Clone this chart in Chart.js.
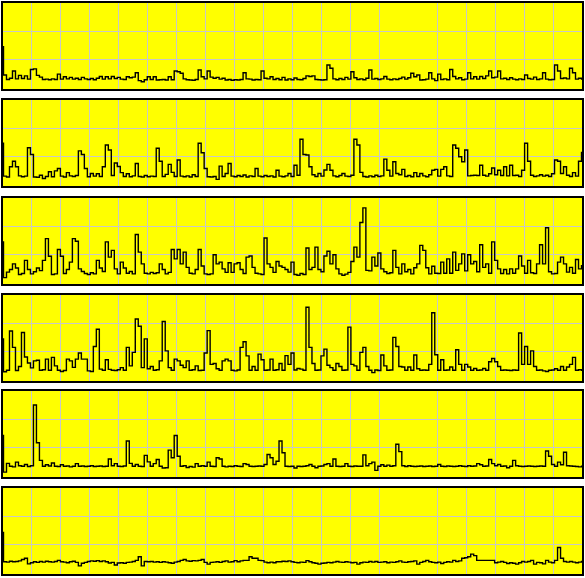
<!DOCTYPE html>
<html>
<head>
<meta charset="utf-8">
<script src="https://cdn.jsdelivr.net/npm/chart.js@4/dist/chart.umd.min.js"></script>
<style>
  html, body { margin: 0; padding: 0; background: #ffffff; }
  body { width: 585px; height: 578px; position: relative; overflow: hidden; }
  canvas { position: absolute; left: 0; }
</style>
</head>
<body>
<script>
// ---- data (values in panel units, 0 = bottom, 30 = top) ----
const series1 = [
  14.8,5.1,3.6,4.0,6.5,3.8,5.0,3.9,4.8,3.7,
  7.0,7.2,5.0,4.4,3.6,3.7,3.5,3.8,3.6,5.4,
  3.7,4.5,3.8,4.3,3.7,4.0,3.6,4.3,3.8,3.6,
  3.9,3.5,4.0,4.6,3.7,4.5,3.8,4.6,3.9,4.3,
  3.7,3.6,4.5,4.2,4.4,5.9,3.2,2.8,3.5,4.5,
  3.6,4.5,3.4,3.5,3.6,3.4,4.5,3.5,6.5,6.2,
  5.7,3.8,3.5,3.4,3.3,3.6,6.8,4.5,3.8,6.5,
  4.4,4.0,4.3,3.7,4.0,3.4,3.6,3.3,3.5,3.4,
  3.6,5.9,3.8,3.7,3.4,3.6,3.5,6.5,4.0,3.8,
  4.5,3.6,3.9,3.5,4.3,3.4,3.8,3.5,4.1,3.6,
  3.5,3.9,4.8,4.6,4.8,3.6,3.5,3.4,3.5,8.5,
  7.4,3.8,3.5,3.9,3.6,4.3,3.7,6.2,4.2,3.6,
  3.8,3.5,4.0,6.8,3.7,3.9,3.6,3.8,4.6,3.7,
  3.5,3.8,3.6,3.9,4.4,3.7,4.2,5.7,4.5,5.1,
  3.4,3.5,3.7,5.9,3.8,3.2,5.4,3.6,3.8,3.5,
  7.0,4.6,3.8,4.2,3.5,3.7,5.9,3.8,4.5,3.7,
  4.6,3.9,4.8,6.5,4.2,4.4,6.5,3.8,4.0,3.6,
  4.2,3.7,3.5,3.8,3.6,5.1,3.9,3.7,4.4,3.6,
  3.8,5.9,3.7,3.5,3.6,8.5,6.5,3.9,4.1,3.8,
  7.4,5.9,3.7,4.0,3.7
];
const series2 = [
  14.9,3.7,3.4,6.9,8.8,6.9,3.8,3.5,3.7,13.4,
  11.1,3.4,3.3,4.0,2.9,3.6,5.2,3.5,5.5,6.3,
  3.7,3.4,4.9,3.8,3.6,3.9,12.3,11.1,6.3,3.5,
  4.6,3.7,4.5,3.6,6.9,14.3,12.6,3.9,8.2,7.0,
  4.9,3.6,4.5,3.5,3.8,8.0,3.6,3.4,3.9,3.5,
  3.7,3.6,13.2,8.8,3.6,4.3,7.7,5.0,3.6,9.2,
  3.7,3.5,3.8,3.4,4.2,3.6,14.9,11.7,6.3,3.5,
  3.4,3.6,2.6,7.1,3.6,4.6,8.0,3.7,3.5,3.9,
  3.6,4.1,3.4,3.8,3.6,6.3,3.7,3.5,3.9,3.6,
  3.8,3.4,5.7,3.7,3.5,3.8,4.6,3.6,7.4,4.0,
  16.3,11.1,10.9,6.9,4.2,3.6,4.6,3.7,5.8,7.7,
  5.7,3.8,3.5,3.9,4.6,3.7,3.6,4.0,16.3,14.3,
  5.0,3.6,3.4,3.8,3.5,4.0,3.6,3.8,9.5,5.7,
  3.7,8.6,4.6,4.2,6.0,3.6,3.9,3.5,4.9,3.6,
  4.6,3.8,3.5,4.2,5.7,6.0,3.7,6.0,6.9,3.8,
  3.6,14.3,13.2,10.3,8.6,12.6,3.8,3.9,4.0,3.9,
  7.4,4.0,3.7,4.5,6.5,4.2,5.7,3.9,6.9,3.8,
  7.4,3.9,4.0,3.6,5.7,14.9,8.8,4.0,3.6,3.8,
  4.2,3.7,4.0,3.6,4.5,9.2,8.8,4.6,6.9,4.0,
  3.6,4.9,3.7,8.8,11.8
];
const series3 = [
  14.7,2.5,4.4,5.3,7.2,5.8,3.6,3.9,8.4,5.3,
  3.8,4.5,5.8,4.9,8.4,15.8,9.8,3.6,3.8,12.1,
  9.8,3.9,5.3,7.8,15.8,14.9,5.5,4.6,3.9,3.6,
  4.2,3.8,8.4,5.8,4.6,14.7,9.5,11.8,5.5,3.8,
  7.8,5.8,4.0,4.6,3.8,17.2,11.2,7.2,4.0,3.8,
  4.3,3.9,4.2,7.2,5.3,3.8,4.3,12.1,8.9,12.1,
  7.2,11.2,6.0,4.0,3.8,5.3,12.1,6.5,3.8,3.6,
  3.8,10.3,7.2,7.8,5.5,4.3,7.6,4.3,7.2,7.6,
  5.3,3.9,9.5,9.9,6.0,4.0,3.8,3.6,16.0,7.2,
  6.0,4.3,8.0,6.5,6.0,5.3,4.4,7.8,3.6,3.3,
  3.9,3.6,12.6,5.3,6.0,12.9,5.3,4.5,9.9,11.5,
  7.2,10.3,5.5,3.8,3.3,3.7,4.3,8.0,12.9,9.5,
  21.3,26.3,5.0,4.8,9.5,6.5,10.9,5.5,4.5,3.9,
  4.2,11.8,6.0,3.8,7.2,4.5,5.3,3.8,5.9,7.2,
  13.5,11.8,5.9,3.8,6.4,4.0,3.9,7.8,4.0,8.9,
  4.0,11.2,5.0,7.2,10.6,4.8,10.3,7.2,8.0,4.5,
  13.7,6.0,7.2,4.0,14.7,8.4,5.5,3.9,5.3,3.8,
  5.5,4.0,5.5,9.9,6.5,4.0,8.4,4.2,3.9,7.2,
  13.7,7.2,19.5,4.5,3.8,3.9,7.8,9.5,7.2,4.4,
  6.0,4.0,8.7,5.5,6.6
];
const series4 = [
  14.7,3.5,4.0,17.4,11.8,3.9,5.3,16.9,8.5,6.5,
  4.8,7.2,7.4,4.0,4.2,7.8,4.0,8.4,5.5,4.0,
  3.6,3.9,7.8,7.2,5.0,7.8,9.9,7.8,7.8,3.8,
  3.6,12.1,18.0,4.4,4.0,7.6,4.3,4.0,3.9,4.2,
  4.9,4.0,11.8,5.5,10.1,21.5,19.0,4.9,14.7,4.5,
  5.3,4.0,4.2,7.2,20.6,10.6,4.9,4.0,7.8,7.2,
  5.7,4.9,7.2,4.0,4.2,5.5,3.9,4.0,9.9,17.5,
  6.0,6.3,4.5,4.0,7.2,7.8,7.2,4.0,3.8,4.1,
  11.8,13.7,8.9,4.0,5.3,4.0,9.5,7.6,4.0,4.1,
  7.8,4.0,4.2,6.3,4.0,9.0,6.0,9.9,4.1,4.6,
  4.4,4.0,25.5,11.8,6.3,4.0,4.1,8.9,11.2,5.7,
  4.9,4.0,6.3,5.3,4.0,4.1,18.7,6.0,5.5,4.0,
  10.1,11.8,5.3,4.0,3.2,4.1,3.9,9.2,5.5,4.0,
  4.1,15.2,12.1,5.3,5.1,4.0,5.1,4.0,9.2,4.5,
  4.0,4.1,4.0,6.0,23.6,9.3,4.0,7.6,4.0,4.1,
  5.1,4.0,11.0,6.0,4.0,6.0,5.1,4.0,4.6,4.0,
  4.1,4.6,4.0,6.9,8.0,6.9,5.3,4.0,4.1,4.0,
  3.9,4.1,4.0,16.7,6.0,12.1,6.0,10.6,5.3,4.0,
  4.1,3.8,3.6,4.0,4.1,4.5,4.0,5.3,4.0,5.1,
  6.0,8.4,4.0,4.2,4.0
];
const series5 = [
  14.5,2.0,5.0,4.0,3.8,5.4,4.2,4.0,4.6,3.9,
  4.2,24.9,12.0,6.0,4.0,4.5,4.1,5.1,4.0,3.9,
  4.5,4.0,4.1,3.8,4.0,4.9,4.0,4.1,3.9,4.0,
  4.2,3.9,4.0,4.1,3.9,4.0,6.5,4.2,4.9,4.0,
  3.9,4.1,12.6,5.0,4.0,4.6,4.0,3.9,7.7,5.5,
  4.0,4.9,6.3,4.0,3.4,3.5,9.5,6.9,14.5,7.4,
  4.0,4.2,3.6,3.9,3.7,4.9,4.0,4.2,4.0,5.4,
  4.0,3.9,6.9,6.5,4.0,3.8,4.0,3.9,4.2,4.0,
  3.9,4.9,4.6,4.0,3.9,4.0,4.1,4.0,4.6,8.0,
  6.9,4.6,5.7,12.6,8.6,4.0,3.9,4.0,3.4,4.0,
  3.9,4.0,4.2,4.6,4.0,3.5,4.0,4.1,4.6,4.9,
  4.0,6.5,4.0,3.9,4.0,4.9,4.0,3.9,4.1,4.0,
  4.0,7.9,4.2,4.9,5.4,2.6,4.0,4.5,4.0,4.4,
  4.0,4.2,11.5,9.0,4.2,3.9,4.2,4.0,3.9,4.0,
  4.1,3.9,4.0,4.1,3.9,4.0,4.6,4.0,3.9,4.1,
  4.0,3.9,4.0,4.2,4.0,3.9,4.2,4.0,4.1,4.9,
  4.5,4.0,4.1,6.3,4.9,4.2,4.6,4.0,4.1,3.5,
  4.0,6.0,4.2,4.0,3.9,4.0,4.1,4.0,3.9,4.0,
  4.1,4.0,9.2,7.4,4.6,4.0,5.4,4.5,8.8,4.2,
  4.1,4.0,3.9,3.8,4.0
];
const series6 = [
  14.5,4.5,4.4,4.7,4.5,4.6,4.8,5.3,5.7,3.8,
  4.2,4.5,4.3,4.6,4.4,4.7,4.5,4.4,4.6,5.0,
  4.5,4.4,4.2,4.5,4.7,4.3,3.1,4.0,4.3,4.6,
  4.8,4.7,4.9,4.6,4.8,4.5,4.1,4.3,3.4,4.1,
  4.2,4.0,4.3,4.4,4.6,5.0,6.2,3.1,4.6,4.5,
  4.6,4.4,4.5,4.3,4.5,4.4,4.2,4.0,4.4,4.6,
  5.0,5.3,4.8,4.7,4.9,4.8,5.0,5.3,4.3,3.7,
  4.3,4.4,4.5,4.3,4.6,4.8,4.4,4.5,4.9,4.5,
  4.8,5.0,5.0,6.2,5.7,5.7,5.0,4.9,4.4,4.2,
  4.4,4.2,4.5,4.5,4.7,4.6,4.8,4.5,4.3,4.2,
  4.4,4.3,4.9,4.5,4.2,4.0,3.7,4.0,4.1,4.3,
  4.2,4.4,4.6,4.4,4.3,4.5,4.4,4.2,4.3,3.7,
  4.2,4.4,4.3,4.6,4.4,4.6,4.3,4.4,4.5,4.2,
  4.4,4.3,4.5,4.8,4.4,4.3,4.5,4.6,4.8,3.7,
  4.3,4.6,5.0,4.5,4.3,4.2,4.4,3.9,4.3,4.5,
  4.4,5.0,4.6,4.8,5.7,5.9,6.2,7.1,6.6,5.0,
  5.0,5.0,5.0,5.0,5.0,4.2,4.4,4.6,4.3,3.9,
  4.2,4.0,3.7,4.2,4.6,4.4,4.6,5.0,3.7,4.3,
  4.2,3.8,5.0,4.4,4.2,5.0,9.4,5.7,4.6,4.4,
  4.6,4.4,4.2,4.4,4.6
];

// ---- axis / grid settings ----
const xDivisions = 20;                 // vertical grid divisions
const xGridDivisionsShown = [1,2,3,4,5,6,7,8,9,10,11,12,13,15,16,17,18,19];
const yGridValues = [10.3, 20];        // horizontal grid lines
const yMin = 0, yMax = 30;

const allSeries = [series1, series2, series3, series4, series5, series6];
const panelTops = [2, 99, 197, 294, 390, 487];
const PANEL_H = 88, PAD = 2, W = 585;

const panelPlugin = {
  id: 'panelFrame',
  beforeDraw(chart) {
    const { ctx, chartArea: a } = chart;
    ctx.save();
    ctx.fillStyle = '#ffff00';
    ctx.fillRect(a.left, a.top, a.right - a.left, a.bottom - a.top);
    ctx.restore();
  },
  afterDraw(chart) {
    const { ctx, chartArea: a } = chart;
    ctx.save();
    ctx.strokeStyle = '#000000';
    ctx.lineWidth = 2;
    ctx.strokeRect(a.left, a.top, a.right - a.left, a.bottom - a.top);
    ctx.restore();
  }
};

allSeries.forEach((vals, p) => {
  const cv = document.createElement('canvas');
  cv.width = W;
  cv.height = PANEL_H + 2 * PAD;
  cv.style.top = (panelTops[p] - PAD) + 'px';
  cv.style.width = W + 'px';
  cv.style.height = (PANEL_H + 2 * PAD) + 'px';
  document.body.appendChild(cv);
  const xMax = vals.length - 1;
  new Chart(cv, {
    type: 'line',
    data: {
      datasets: [{
        data: vals.map((v, i) => ({ x: i, y: v })),
        borderColor: '#000000',
        borderWidth: 1.4,
        pointRadius: 0,
        stepped: 'middle',
        fill: false
      }]
    },
    options: {
      responsive: false,
      animation: false,
      devicePixelRatio: 1,
      layout: { padding: PAD },
      plugins: { legend: { display: false }, tooltip: { enabled: false } },
      scales: {
        x: {
          type: 'linear', min: 0, max: xMax,
          ticks: { display: false },
          grid: { drawTicks: false, color: '#c8c8c8', lineWidth: 1 },
          border: { display: false },
          afterBuildTicks: s => { s.ticks = xGridDivisionsShown.map(k => ({ value: k * xMax / xDivisions })); }
        },
        y: {
          type: 'linear', min: yMin, max: yMax,
          ticks: { display: false },
          grid: { drawTicks: false, color: '#c8c8c8', lineWidth: 1 },
          border: { display: false },
          afterBuildTicks: s => { s.ticks = yGridValues.map(v => ({ value: v })); }
        }
      }
    },
    plugins: [panelPlugin]
  });
});
</script>
</body>
</html>
